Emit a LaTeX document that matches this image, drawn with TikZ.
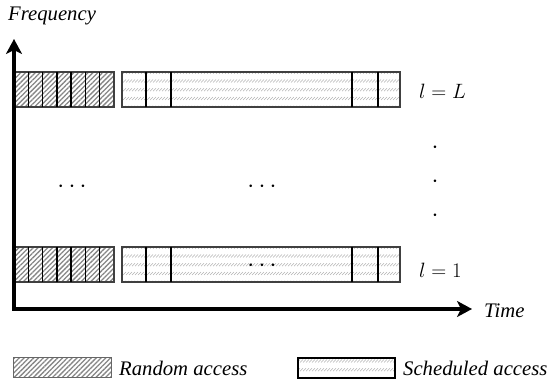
\documentclass[tikz,border=0pt]{standalone}
\usepackage{fontspec}
\newfontfamily\tms{Liberation Serif}
\usetikzlibrary{patterns.meta,arrows.meta}
\tikzdeclarepattern{
  name=schedpat,
  type=uncolored,
  bottom left={(-0.5pt,-0.5pt)},
  top right={(3.5pt,9.25pt)},
  tile size={(3pt,8.75pt)},
  code={\pgfsetlinewidth{0.55pt}\pgfpathmoveto{\pgfpoint{0pt}{2pt}}\pgfpathlineto{\pgfpoint{3pt}{5pt}}\pgfusepath{stroke}}
}
\begin{document}
\begin{tikzpicture}[x=1pt,y=-1pt,
  randfill/.style={pattern={Lines[angle=45,distance=3.4pt,line width=1.3pt]},pattern color=gray!95},
  schedfill/.style={pattern=schedpat,pattern color=gray!60},
  frame/.style={draw=black!75,line width=1.2pt},
  divider/.style={draw=black,line width=1.4pt},
  lab/.style={font=\tms\itshape\fontsize{20.7}{24}\selectfont,inner sep=0pt,anchor=base west},
  mlab/.style={font=\fontsize{22}{26}\selectfont,inner sep=0pt,anchor=base west},
  dotsn/.style={font=\fontsize{30}{36}\selectfont,inner sep=0pt,anchor=base},
  axis/.style={line width=3.5pt,line join=miter,{Stealth[length=15pt,width=16pt,inset=4pt]}-{Stealth[length=15pt,width=16pt,inset=4pt]}}]
\useasboundingbox (0,0) rectangle (550,382);
% rows
\foreach \yt in {72,247}{
  \fill[randfill] (14,\yt) rectangle (114,\yt+35);
  \draw[frame] (14,\yt) rectangle (114,\yt+35);
  \foreach \i in {1,...,6} \draw[divider] (14+\i*14.2857,\yt) -- ++(0,35);
  \fill[schedfill] (122,\yt) rectangle (400,\yt+35);
  \draw[frame] (122,\yt) rectangle (400,\yt+35);
  \foreach \xx in {146,171,352,378} \draw[divider] (\xx,\yt) -- ++(0,35);
}
% axes
\coordinate (ytip) at (14,39);
\coordinate (orig) at (14,309);
\coordinate (xtip) at (472,309);
\draw[axis] (ytip) -- (orig) -- (xtip);
% labels
\node[lab] (freq) at (8,21) {Frequency};
\node[lab] (time) at (484,318) {Time};
\node[mlab] (lL) at (419,99) {$l=L$};
\node[mlab] (l1) at (419,278) {$l=1$};
% dots
\node[dotsn] (d1) at (72,192.5) {$\cdots$};
\node[dotsn] (d2) at (262,192.5) {$\cdots$};
\node[dotsn] (d3) at (262,271.5) {$\cdots$};
\node[dotsn] (v1) at (435,153.5) {$\cdot$};
\node[dotsn] (v2) at (435,187.5) {$\cdot$};
\node[dotsn] (v3) at (435,221.5) {$\cdot$};
% legend
\fill[randfill] (13,358) rectangle (111,378);
\draw[draw=black!60,line width=1pt] (13,358) rectangle (111,378);
\node[lab] (rlab) at (119,376) {Random access};
\fill[schedfill] (298,358) rectangle (395,378);
\draw[draw=black,line width=1.3pt] (298,358) rectangle (395,378);
\node[lab] (slab) at (403,376) {Scheduled access};
\end{tikzpicture}
\end{document}
